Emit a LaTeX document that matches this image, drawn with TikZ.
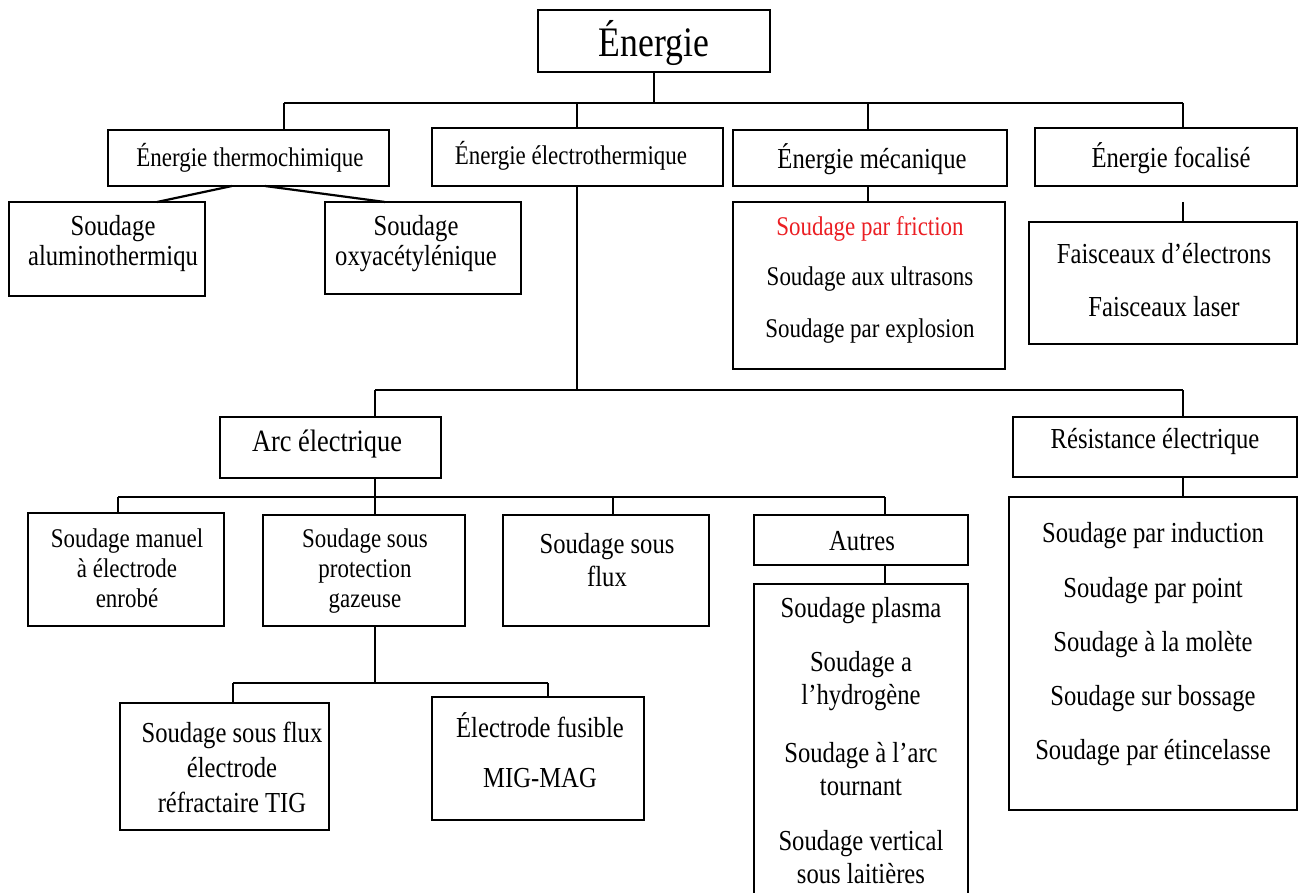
\documentclass[tikz,border=0pt]{standalone}
\usepackage{fontspec}
\setmainfont{Liberation Serif}[FakeStretch=0.85]
\usetikzlibrary{fit}
\definecolor{fric}{RGB}{235,30,35}
\tikzset{
 box/.style={draw, line width=2.2pt, inner sep=0pt},
 txt/.style={font=\fontsize{29}{33}\selectfont, align=center, inner sep=0pt},
 txts/.style={font=\fontsize{27}{30}\selectfont, align=center, inner sep=0pt},
 con/.style={line width=2.2pt},
}
\begin{document}
\begin{tikzpicture}[x=1pt,y=-1pt]
\clip (0,0) rectangle (1299,893);
% boxes
\node[box, fit={(538,10) (770,72)}] (energie) {};
\node[txt, font=\fontsize{42}{46}\selectfont] (energie-t) at (654,43) {Énergie};
\node[box, fit={(108,130) (389,186)}] (thermo) {};
\node[txts] (thermo-t) at (250,158) {Énergie thermochimique};
\node[box, fit={(432,128) (723,186)}] (electro) {};
\node[txts] (electro-t) at (571,156) {Énergie électrothermique};
\node[box, fit={(733,130) (1007,186)}] (meca) {};
\node[txt] (meca-t) at (872,159) {Énergie mécanique};
\node[box, fit={(1035,128) (1297,186)}] (focal) {};
\node[txt] (focal-t) at (1171,158) {Énergie focalisé};

\node[box, fit={(9,202) (205,296)}] (alu) {};
\node[txt, font=\fontsize{29}{30}\selectfont] (alu-t) at (113,244) {Soudage\\aluminothermiqu};
\node[box, fit={(325,202) (521,294)}] (oxy) {};
\node[txt, font=\fontsize{29}{30}\selectfont] (oxy-t) at (416,244) {Soudage\\oxyacétylénique};

\node[box, fit={(733,202) (1005,369)}] (mecabox) {};
\node[txts, text=fric] (meca1) at (870,229) {Soudage par friction};
\node[txts] (meca2) at (870,279) {Soudage aux ultrasons};
\node[txts] (meca3) at (870,331) {Soudage par explosion};

\node[box, fit={(1029,222) (1297,344)}] (focbox) {};
\node[txt] (foc1) at (1164,254) {Faisceaux d’électrons};
\node[txt] (foc2) at (1164,307) {Faisceaux laser};

\node[box, fit={(220,417) (441,478)}] (arc) {};
\node[txt, font=\fontsize{31}{33}\selectfont] (arc-t) at (327,444) {Arc électrique};
\node[box, fit={(1013,417) (1297,477)}] (resist) {};
\node[txt] (resist-t) at (1155,442) {Résistance électrique};

\node[box, fit={(28,513) (224,626)}] (manuel) {};
\node[txts] (manuel-t) at (127,568) {Soudage manuel\\à électrode\\enrobé};
\node[box, fit={(263,515) (465,626)}] (gaz) {};
\node[txts] (gaz-t) at (365,571) {Soudage sous\\protection\\gazeuse};
\node[box, fit={(503,515) (709,626)}] (flux) {};
\node[txt] (flux-t) at (607,560) {Soudage sous\\flux};
\node[box, fit={(754,515) (968,565)}] (autres) {};
\node[txt] (autres-t) at (862,541) {Autres};

\node[box, fit={(754,584) (968,910)}] (autbox) {};
\node[txt] (aut1) at (861,611) {Soudage plasma};
\node[txt] (aut2) at (861,681) {Soudage a\\l’hydrogène};
\node[txt] (aut3) at (861,769) {Soudage à l’arc\\tournant};
\node[txt] (aut4) at (861,857) {Soudage vertical\\sous laitières};

\node[box, fit={(1009,497) (1297,810)}] (resbox) {};
\node[txt] (res1) at (1153,536) {Soudage par induction};
\node[txt] (res2) at (1153,591) {Soudage par point};
\node[txt] (res3) at (1153,645) {Soudage à la molète};
\node[txt] (res4) at (1153,699) {Soudage sur bossage};
\node[txt] (res5) at (1153,753) {Soudage par étincelasse};

\node[box, fit={(120,703) (329,830)}] (tig) {};
\node[txt, font=\fontsize{29}{35}\selectfont] (tig-t) at (232,767) {Soudage sous flux\\électrode\\réfractaire TIG};
\node[box, fit={(432,697) (644,820)}] (fus) {};
\node[txt] (fus1) at (540,725) {Électrode fusible};
\node[txt] (fus2) at (540,778) {MIG-MAG};

% connectors
\coordinate (b1L) at (284,103);
\coordinate (b1R) at (1183,103);
\coordinate (b1E) at (577,103);
\coordinate (b1M) at (868,103);
\draw[con] (energie.south) -- (energie.south |- b1L);
\draw[con] (b1L) -- (b1R);
\draw[con] (b1L) -- (b1L |- thermo.north);
\draw[con] (b1E) -- (b1E |- electro.north);
\draw[con] (b1M) -- (b1M |- meca.north);
\draw[con] (b1R) -- (b1R |- focal.north);

\draw[con] (232,186) -- (157,202);
\draw[con] (265,186) -- (385,202);

\draw[con] (b1M |- meca.south) -- (b1M |- mecabox.north);
\coordinate (fc) at (1183,202);
\draw[con] (fc) -- (fc |- focbox.north);

\coordinate (b2L) at (375,390);
\coordinate (b2R) at (1183,390);
\draw[con] (b1E |- electro.south) -- (b1E |- b2L);
\draw[con] (b2L) -- (b2R);
\draw[con] (b2L) -- (b2L |- arc.north);
\draw[con] (b2R) -- (b2R |- resist.north);
\draw[con] (b2R |- resist.south) -- (b2R |- resbox.north);

\coordinate (b3L) at (118,497);
\coordinate (b3R) at (885,497);
\coordinate (b3G) at (375,497);
\coordinate (b3F) at (613,497);
\draw[con] (b3G |- arc.south) -- (b3G);
\draw[con] (b3L) -- (b3R);
\draw[con] (b3L) -- (b3L |- manuel.north);
\draw[con] (b3G) -- (b3G |- gaz.north);
\draw[con] (b3F) -- (b3F |- flux.north);
\draw[con] (b3R) -- (b3R |- autres.north);
\draw[con] (b3R |- autres.south) -- (b3R |- autbox.north);

\coordinate (b4L) at (233,683);
\coordinate (b4R) at (548,683);
\draw[con] (b3G |- gaz.south) -- (b3G |- b4L);
\draw[con] (b4L) -- (b4R);
\draw[con] (b4L) -- (b4L |- tig.north);
\draw[con] (b4R) -- (b4R |- fus.north);
\end{tikzpicture}
\end{document}
